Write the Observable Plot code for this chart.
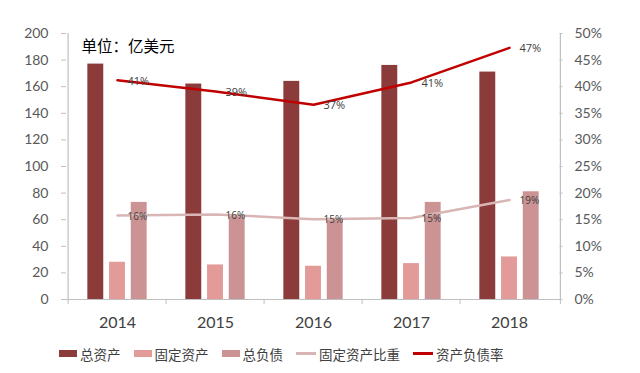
<!DOCTYPE html>
<html><head><meta charset="utf-8">
<script src="https://cdn.jsdelivr.net/npm/d3@7"></script>
<script src="https://cdn.jsdelivr.net/npm/@observablehq/plot@0.6"></script>
<style>
body{margin:0;background:#fff;font-family:"Noto Sans CJK SC",sans-serif;}
#legend{height:35px;display:flex;align-items:center;padding-left:59px;font-size:13.5px;color:#404040;}
.item{display:flex;align-items:center;margin-right:13px;}
.sw{width:18px;height:7px;margin-right:3px;}
.ln{width:20px;height:2.5px;margin-right:3px;}
</style></head><body>
<div id="chart"></div>
<div id="legend"></div>
<script>
const years = ["2014","2015","2016","2017","2018"];
const totalAssets = [177, 162, 164, 176, 171];
const fixedAssets = [28, 26, 25, 27, 32];
const totalDebt = [73, 63, 61, 73, 81];
const fixedRatio = [0.158, 0.160, 0.151, 0.153, 0.187];
const debtRatio = [0.412, 0.391, 0.366, 0.408, 0.473];
const leftTicks = [0,20,40,60,80,100,120,140,160,180,200];
const title = "单位：亿美元";
const seriesNames = ["总资产","固定资产","总负债","固定资产比重","资产负债率"];
const colors = ["#8B3B3A","#E39B99","#CB9394","#D9B5B5","#C00000"];

const W = 640, H = 336, ML = 66, MR = 80, MT = 33, MB = 37;
const bw = (W - ML - MR) / years.length;
const barW = 16.7, gap = 5;
const g0 = (bw - (3 * barW + 2 * gap)) / 2;
const inset = k => ({insetLeft: g0 + k * (barW + gap), insetRight: bw - g0 - k * (barW + gap) - barW});

const rows = years.map((y, i) => ({year: y, ta: totalAssets[i], fa: fixedAssets[i], td: totalDebt[i], fr: fixedRatio[i] * 400, dr: debtRatio[i] * 400, frl: fixedRatio[i], drl: debtRatio[i]}));
const pct = d3.format(".0%");
const axisColor = "#BFBFBF";

const plot = Plot.plot({
  width: W, height: H, marginLeft: ML, marginRight: MR, marginTop: MT, marginBottom: MB,
  style: {fontFamily: "Lato, 'Open Sans', sans-serif", background: "#fff"},
  x: {domain: years, padding: 0, label: null},
  y: {domain: [0, 200], label: null},
  marks: [
    Plot.barY(rows, {x: "year", y: "ta", fill: colors[0], ...inset(0)}),
    Plot.barY(rows, {x: "year", y: "fa", fill: colors[1], ...inset(1)}),
    Plot.barY(rows, {x: "year", y: "td", fill: colors[2], ...inset(2)}),
    Plot.ruleY([0], {stroke: axisColor, strokeWidth: 1.2}),
    Plot.ruleX([years[0]], {dx: -bw / 2, y1: 0, y2: 200, stroke: axisColor, strokeWidth: 1.2}),
    Plot.ruleX([years[years.length - 1]], {dx: bw / 2 + 1.5, y1: 0, y2: 200, stroke: axisColor, strokeWidth: 1.2}),
    Plot.ruleX(years, {dx: -bw / 2, y1: 0, y2: 0, insetBottom: -5, stroke: axisColor}),
    Plot.ruleX([years[years.length - 1]], {dx: bw / 2 + 1.5, y1: 0, y2: 0, insetBottom: -5, stroke: axisColor}),
    Plot.line(rows, {x: "year", y: "fr", stroke: colors[3], strokeWidth: 2.5}),
    Plot.line(rows, {x: "year", y: "dr", stroke: colors[4], strokeWidth: 2.5}),
    Plot.text(rows, {x: "year", y: "fr", text: d => pct(d.frl), dx: 10, dy: 1, textAnchor: "start", fontSize: 10, fill: "#404040", fontFamily: "'Open Sans', sans-serif"}),
    Plot.text(rows, {x: "year", y: "dr", text: d => pct(d.drl), dx: 10, dy: 1, textAnchor: "start", fontSize: 11, fill: "#404040", fontFamily: "'Open Sans', sans-serif"}),
    Plot.text([title], {frameAnchor: "top-left", dx: 15, dy: 14, textAnchor: "start", lineAnchor: "middle", fontSize: 15.5, fill: "#000", fontFamily: "'Noto Sans CJK SC', sans-serif"}),
    Plot.axisY({anchor: "left", ticks: leftTicks, tickSize: 5, tickPadding: 13, stroke: axisColor, fill: "#595959", fontSize: 14}),
    Plot.axisY({anchor: "right", ticks: leftTicks, tickSize: 3, dx: -1.5, text: null, stroke: axisColor}),
    Plot.axisY({anchor: "right", ticks: leftTicks, tickSize: 0, tickPadding: 14, tickFormat: d => (d / 4) + "%", fill: "#595959", fontSize: 14}),
    Plot.axisX({tickSize: 0, tickPadding: 17, fill: "#404040", fontSize: 16})
  ]
});
document.getElementById("chart").appendChild(plot);

const legend = document.getElementById("legend");
seriesNames.forEach((name, i) => {
  const it = document.createElement("div");
  it.className = "item";
  const sw = document.createElement("span");
  sw.className = i < 3 ? "sw" : "ln";
  sw.style.background = colors[i];
  const tx = document.createElement("span");
  tx.textContent = name;
  it.appendChild(sw); it.appendChild(tx);
  legend.appendChild(it);
});
</script>
</body></html>
